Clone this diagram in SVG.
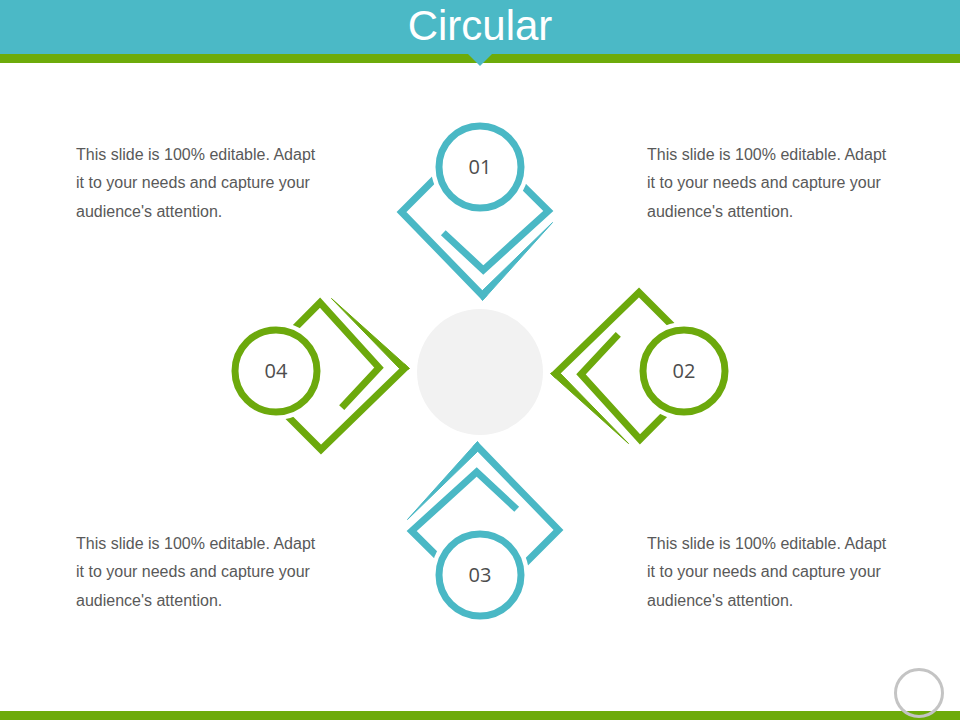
<svg xmlns="http://www.w3.org/2000/svg" width="960" height="720" viewBox="0 0 960 720">
  <defs>
    <style>
      .teal { stroke: #4ab8c5; }
      .green { stroke: #6ca90c; }
      .tealf { fill: #4ab8c5; }
      .greenf { fill: #6ca90c; }
      .line { fill: none; stroke-width: 7; stroke-linejoin: miter; stroke-miterlimit: 10; }
      .frame { stroke-linecap: square; }
      .gap { fill: #ffffff; }
      .ring { fill: #ffffff; stroke-width: 7; }
      .num { font-family: "Open Sans", "Noto Sans", "DejaVu Sans", sans-serif; font-size: 20px; fill: #4d4d4d; text-anchor: middle; }
      .body { font-family: "Liberation Sans", Arial, sans-serif; font-size: 16px; fill: #595959; }
      .title { font-family: "Liberation Sans", Arial, sans-serif; font-size: 42px; fill: #ffffff; text-anchor: middle; }
    </style>
    <g id="shape">
      <polyline class="line frame" points="446.5,167 401.5,212 482.5,295.5"/>
      <polygon points="482.5,300.5 552.5,222.5 482.5,290.5 479,294"/>
      <polyline class="line" points="443.3,232.7 483.3,270 548.3,211 508,171"/>
    </g>
  </defs>

  <rect x="0" y="0" width="960" height="720" fill="#ffffff"/>

  <g id="header">
    <rect x="0" y="0" width="960" height="54" fill="#4bb9c6"/>
    <rect x="0" y="54" width="960" height="9" fill="#6dab0a"/>
    <polygon points="468,54 492,54 480,66" fill="#4bb9c6"/>
    <text class="title" x="480" y="40">Circular</text>
  </g>

  <g id="center">
    <circle cx="480" cy="372" r="63" fill="#f2f2f2"/>
  </g>

  <g id="connectors"></g>

  <g id="node-01">
    <g class="teal tealf">
      <use href="#shape"/>
    </g>
    <circle class="gap" cx="480" cy="167" r="49"/>
    <circle class="ring teal" cx="480" cy="167" r="41"/>
    <text class="num" x="480" y="174">01</text>
  </g>

  <g id="node-02">
    <g class="green greenf" transform="rotate(90 480 371)">
      <use href="#shape"/>
    </g>
    <circle class="gap" cx="684" cy="371" r="49"/>
    <circle class="ring green" cx="684" cy="371" r="41"/>
    <text class="num" x="684" y="378">02</text>
  </g>

  <g id="node-03">
    <g class="teal tealf" transform="rotate(180 480 371)">
      <use href="#shape"/>
    </g>
    <circle class="gap" cx="480" cy="575" r="49"/>
    <circle class="ring teal" cx="480" cy="575" r="41"/>
    <text class="num" x="480" y="582">03</text>
  </g>

  <g id="node-04">
    <g class="green greenf" transform="rotate(270 480 371)">
      <use href="#shape"/>
    </g>
    <circle class="gap" cx="276" cy="371" r="49"/>
    <circle class="ring green" cx="276" cy="371" r="41"/>
    <text class="num" x="276" y="378">04</text>
  </g>

  <g id="text-top-left" class="body">
    <text x="76" y="159.5">This slide is 100% editable. Adapt</text>
    <text x="76" y="188">it to your needs and capture your</text>
    <text x="76" y="216.5">audience's attention.</text>
  </g>
  <g id="text-top-right" class="body">
    <text x="647" y="159.5">This slide is 100% editable. Adapt</text>
    <text x="647" y="188">it to your needs and capture your</text>
    <text x="647" y="216.5">audience's attention.</text>
  </g>
  <g id="text-bottom-left" class="body">
    <text x="76" y="548.5">This slide is 100% editable. Adapt</text>
    <text x="76" y="577">it to your needs and capture your</text>
    <text x="76" y="605.5">audience's attention.</text>
  </g>
  <g id="text-bottom-right" class="body">
    <text x="647" y="548.5">This slide is 100% editable. Adapt</text>
    <text x="647" y="577">it to your needs and capture your</text>
    <text x="647" y="605.5">audience's attention.</text>
  </g>

  <g id="footer">
    <rect x="0" y="711" width="960" height="9" fill="#6dab0a"/>
    <circle cx="919" cy="693" r="23.5" fill="none" stroke="#c4c4c4" stroke-width="3"/>
  </g>
</svg>
